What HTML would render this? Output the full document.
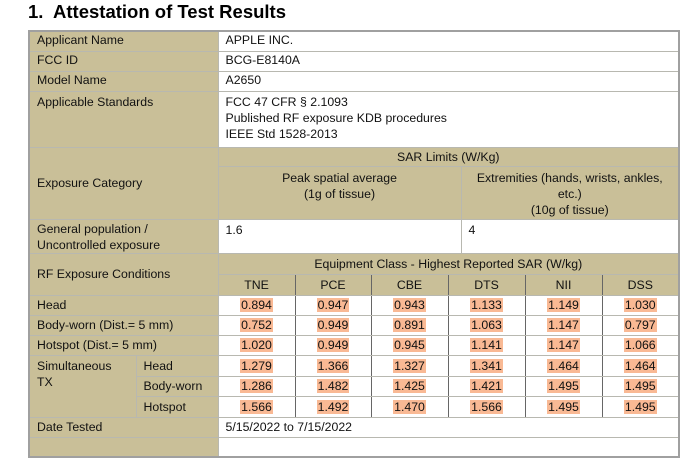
<!DOCTYPE html>
<html><head><meta charset="utf-8"><style>
body{margin:0;width:700px;height:441px;overflow:hidden;background:#fff;font-family:"Liberation Sans",sans-serif;}
h1{position:absolute;left:28px;top:1px;margin:0;font-size:18.5px;font-weight:bold;color:#000;}
table{position:absolute;left:28px;top:30px;border-collapse:collapse;table-layout:fixed;width:650px;border:2px solid #a0a0a0;font-size:12.3px;color:#111;}
td{border:1px solid #b8b8b0;padding:0 0 0 7px;vertical-align:top;line-height:16px;overflow:hidden;white-space:nowrap;}
.t{background:#c9bf98;}
.w{background:#fff;}
.c{text-align:center;padding:0;}
.v td.n{text-align:center;padding:0;border-left:1px solid #666;border-right:1px solid #666;}
.v td{vertical-align:middle;}
.hl{background:#f9b994;padding:0 1px;}
</style></head><body>
<h1>1.&nbsp; Attestation of Test Results</h1>
<table>
<colgroup><col style="width:107px"><col style="width:82px"><col style="width:77px"><col style="width:76px"><col style="width:77px"><col style="width:13px"><col style="width:64px"><col style="width:77px"><col style="width:77px"></colgroup>
<tr style="height:20px"><td class="t" colspan="2">Applicant Name</td><td class="w" colspan="7">APPLE INC.</td></tr>
<tr style="height:20px"><td class="t" colspan="2">FCC ID</td><td class="w" colspan="7">BCG-E8140A</td></tr>
<tr style="height:20px"><td class="t" colspan="2">Model Name</td><td class="w" colspan="7">A2650</td></tr>
<tr style="height:56px"><td class="t" colspan="2" style="padding-top:2px">Applicable Standards</td><td class="w" colspan="7" style="padding-top:2px">FCC 47 CFR § 2.1093<br>Published RF exposure KDB procedures<br>IEEE Std 1528-2013</td></tr>
<tr style="height:19px"><td class="t" colspan="2" rowspan="2" style="vertical-align:middle">Exposure Category</td><td class="t c" colspan="7" style="vertical-align:middle">SAR Limits (W/Kg)</td></tr>
<tr style="height:53px"><td class="t c" colspan="4" style="padding-top:3px">Peak spatial average<br>(1g of tissue)</td><td class="t c" colspan="3" style="padding-top:3px">Extremities (hands, wrists, ankles,<br>etc.)<br>(10g of tissue)</td></tr>
<tr style="height:34px"><td class="t" colspan="2" style="padding-top:1px">General population /<br>Uncontrolled exposure</td><td class="w" colspan="4" style="padding-top:2px">1.6</td><td class="w" colspan="3" style="padding-top:2px">4</td></tr>
<tr style="height:21px"><td class="t" colspan="2" rowspan="2" style="vertical-align:middle">RF Exposure Conditions</td><td class="t c" colspan="7" style="vertical-align:middle">Equipment Class - Highest Reported SAR (W/kg)</td></tr>
<tr style="height:21px" class="v"><td class="t n">TNE</td><td class="t n">PCE</td><td class="t n">CBE</td><td class="t n" colspan="2">DTS</td><td class="t n">NII</td><td class="t n">DSS</td></tr>
<tr style="height:20px" class="v"><td class="t" colspan="2">Head</td><td class="w n"><span class="hl">0.894</span></td><td class="w n"><span class="hl">0.947</span></td><td class="w n"><span class="hl">0.943</span></td><td class="w n" colspan="2"><span class="hl">1.133</span></td><td class="w n"><span class="hl">1.149</span></td><td class="w n"><span class="hl">1.030</span></td></tr>
<tr style="height:20px" class="v"><td class="t" colspan="2">Body-worn (Dist.= 5 mm)</td><td class="w n"><span class="hl">0.752</span></td><td class="w n"><span class="hl">0.949</span></td><td class="w n"><span class="hl">0.891</span></td><td class="w n" colspan="2"><span class="hl">1.063</span></td><td class="w n"><span class="hl">1.147</span></td><td class="w n"><span class="hl">0.797</span></td></tr>
<tr style="height:20px" class="v"><td class="t" colspan="2">Hotspot (Dist.= 5 mm)</td><td class="w n"><span class="hl">1.020</span></td><td class="w n"><span class="hl">0.949</span></td><td class="w n"><span class="hl">0.945</span></td><td class="w n" colspan="2"><span class="hl">1.141</span></td><td class="w n"><span class="hl">1.147</span></td><td class="w n"><span class="hl">1.066</span></td></tr>
<tr style="height:21px" class="v"><td class="t" rowspan="3" style="vertical-align:top;padding-top:2px">Simultaneous<br>TX</td><td class="t">Head</td><td class="w n"><span class="hl">1.279</span></td><td class="w n"><span class="hl">1.366</span></td><td class="w n"><span class="hl">1.327</span></td><td class="w n" colspan="2"><span class="hl">1.341</span></td><td class="w n"><span class="hl">1.464</span></td><td class="w n"><span class="hl">1.464</span></td></tr>
<tr style="height:20px" class="v"><td class="t">Body-worn</td><td class="w n"><span class="hl">1.286</span></td><td class="w n"><span class="hl">1.482</span></td><td class="w n"><span class="hl">1.425</span></td><td class="w n" colspan="2"><span class="hl">1.421</span></td><td class="w n"><span class="hl">1.495</span></td><td class="w n"><span class="hl">1.495</span></td></tr>
<tr style="height:21px" class="v"><td class="t">Hotspot</td><td class="w n"><span class="hl">1.566</span></td><td class="w n"><span class="hl">1.492</span></td><td class="w n"><span class="hl">1.470</span></td><td class="w n" colspan="2"><span class="hl">1.566</span></td><td class="w n"><span class="hl">1.495</span></td><td class="w n"><span class="hl">1.495</span></td></tr>
<tr style="height:20px" class="v"><td class="t" colspan="2">Date Tested</td><td class="w" colspan="7">5/15/2022 to 7/15/2022</td></tr>
<tr style="height:20px"><td class="t" colspan="2">&nbsp;</td><td class="w" colspan="7">&nbsp;</td></tr>
</table>
</body></html>
